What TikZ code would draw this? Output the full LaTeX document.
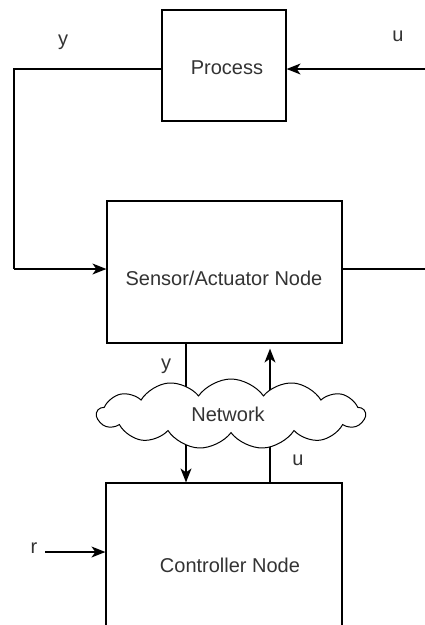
\documentclass[tikz,border=0pt]{standalone}
\usepackage{fontspec}
\setmainfont{Liberation Sans}
\usetikzlibrary{shapes.symbols,arrows.meta}
\begin{document}
\begin{tikzpicture}[x=1pt,y=-1pt,
  every node/.style={font=\fontsize{20}{24}\selectfont, text=black!80},
  blk/.style={draw=black, line width=1.2pt, inner sep=0pt},
  conn/.style={line width=1.2pt, draw=black},
  arr/.style={conn, -{Stealth[length=14pt,width=11pt,inset=4pt]}},
  lbl/.style={inner sep=0pt}]
\clip (0,0) rectangle (425,625);
\fill[white] (0,0) rectangle (425,625);
% blocks
\node[blk, minimum width=124pt, minimum height=111pt] (proc) at (224,65.5) {};
\node at (227,68) (proct) {Process};
\node[blk, minimum width=235pt, minimum height=142pt] (sens) at (224.5,272) {};
\node at (224,278) (senst) {Sensor/Actuator Node};
\node[blk, minimum width=236pt, minimum height=164pt] (ctrl) at (224,565) {};
\node at (230,565) (ctrlt) {Controller Node};
% coordinates
\coordinate (pl) at (14,69);
\coordinate (sl) at (14,269);
\coordinate (ur) at (425,69);
\coordinate (sr) at (425,269);
\coordinate (rin) at (45,552);
% connectors
\draw[conn] ([yshift=-3.5pt]proc.west) -- (pl) -- (sl);
\draw[arr] (sl) -- (sl -| sens.west);
\draw[arr] (ur) -- (ur -| proc.east);
\draw[conn] (sr -| sens.east) -- (sr);
\draw[arr] (rin) -- (rin -| ctrl.west);
\draw[arr] (186,343) coordinate (ys) -- (ys |- ctrl.north);
\draw[arr, shorten >=5pt] (270,483) coordinate (uc) -- (uc |- sens.south);
% cloud
\node[cloud, draw=black, line width=1pt, fill=white, cloud puffs=13, cloud puff arc=110,
  minimum width=268pt, minimum height=70pt, inner sep=0pt] (net) at (231,414) {};
\node at (228,414) (nett) {Network};
% labels
\node[lbl] (ly1) at (63,42) {y};
\node[lbl] (lu1) at (398,36) {u};
\node[lbl] (ly2) at (166,366) {y};
\node[lbl] (lu2) at (298,460) {u};
\node[lbl] (lr) at (34,548) {r};
\end{tikzpicture}
\end{document}
